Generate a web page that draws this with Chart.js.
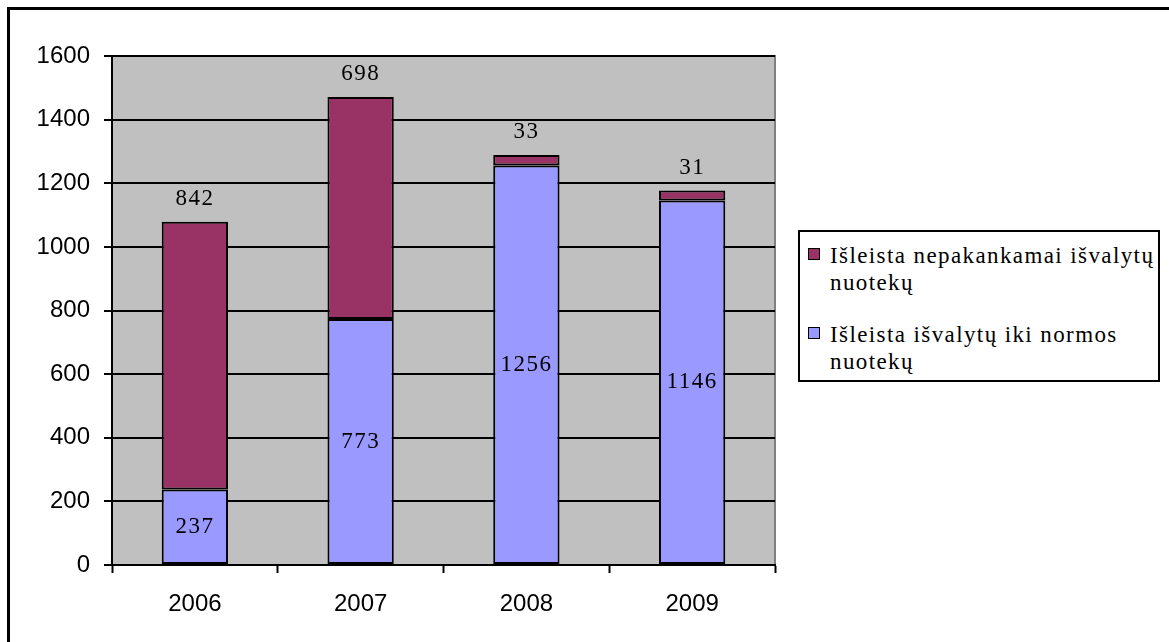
<!DOCTYPE html>
<html>
<head>
<meta charset="utf-8">
<script src="https://cdn.jsdelivr.net/npm/chart.js@4/dist/chart.umd.min.js"></script>
<style>
    html, body { margin: 0; padding: 0; background: #fff; }
    .wrap { position: relative; width: 1169px; height: 642px; overflow: hidden; }
    .frame { position: absolute; left: 7px; top: 7px; width: 1200px; height: 700px; border: 3px solid #000; }
    #chart { position: absolute; left: 0; top: 0; }
    .legend {
        position: absolute; left: 798px; top: 230px; width: 358px; height: 148px;
        border: 2px solid #000; background: #fff;
        font-family: "Liberation Serif", "Times New Roman", serif; font-size: 23px; line-height: 27px;
        letter-spacing: 1.4px; color: #000;
    }
    .legend-item { position: relative; padding-left: 30px; margin-top: 10px; }
    .legend-item + .legend-item { margin-top: 25px; }
    .swatch { position: absolute; left: 8px; top: 6px; width: 10px; height: 10px; border: 1.5px solid #000; }
</style>
</head>
<body>
<div class="wrap">
    <div class="frame"></div>
    <canvas id="chart" width="1169" height="642"></canvas>
    <div class="legend" id="legend"></div>
</div>
<script>
//============================================= Data =============================================//
const years = ['2006', '2007', '2008', '2009'];
const cleanedToNorm = [237, 773, 1256, 1146];
const insufficientlyCleaned = [842, 698, 33, 31];
const seriesNames = ['Išleista išvalytų iki normos nuotekų', 'Išleista nepakankamai išvalytų nuotekų'];
const yTicks = [0, 200, 400, 600, 800, 1000, 1200, 1400, 1600];

const colors = ['#9999FF', '#993366'];

//============================================= Plugins =============================================//
const plotBackground = {
    id: 'plotBackground',
    beforeDraw(chart) {
        const {ctx, chartArea: a} = chart;
        ctx.save();
        ctx.fillStyle = '#C0C0C0';
        ctx.fillRect(a.left, a.top, a.right - a.left, a.bottom - a.top);
        ctx.strokeStyle = '#808080';
        ctx.lineWidth = 2;
        ctx.strokeRect(a.left, a.top, a.right - a.left, a.bottom - a.top);
        ctx.restore();
    }
};

const valueLabels = {
    id: 'valueLabels',
    afterDatasetsDraw(chart) {
        const {ctx} = chart;
        ctx.save();
        ctx.font = '23px "Liberation Serif", serif';
        ctx.letterSpacing = '1.5px';
        ctx.fillStyle = '#000';
        ctx.textAlign = 'center';
        ctx.textBaseline = 'middle';
        chart.data.datasets.forEach((ds, i) => {
            chart.getDatasetMeta(i).data.forEach((bar, j) => {
                const v = ds.data[j];
                if (i === 0) {
                    ctx.fillText(String(v), bar.x, (bar.y + bar.base) / 2);
                } else {
                    ctx.fillText(String(v), bar.x, bar.y - 23);
                }
            });
        });
        ctx.restore();
    }
};

//============================================= Bar chart =============================================//
const barConfig = {
    type: 'bar',
    data: {
        labels: years,
        datasets: [
            {
                label: seriesNames[0],
                data: cleanedToNorm,
                backgroundColor: colors[0],
                borderColor: '#000',
                borderWidth: 2,
                borderSkipped: false
            },
            {
                label: seriesNames[1],
                data: insufficientlyCleaned,
                backgroundColor: colors[1],
                borderColor: '#000',
                borderWidth: 2,
                borderSkipped: false
            }
        ]
    },
    options: {
        responsive: false,
        animation: false,
        barPercentage: 0.4,
        categoryPercentage: 1,
        layout: {
            padding: {left: 0, top: 56, right: 394, bottom: 27}
        },
        plugins: {
            legend: {display: false},
            tooltip: {enabled: false}
        },
        scales: {
            x: {
                stacked: true,
                afterFit(scale) { scale.height = 50; },
                grid: {
                    offset: true,
                    drawOnChartArea: false,
                    tickLength: 8,
                    tickColor: '#000',
                    tickWidth: 2
                },
                border: {color: '#000', width: 2},
                ticks: {
                    color: '#000',
                    padding: 17,
                    font: {family: '"Liberation Sans", Arial, sans-serif', size: 24}
                }
            },
            y: {
                stacked: true,
                min: 0,
                max: 1600,
                afterFit(scale) { scale.width = 112; },
                afterBuildTicks(scale) { scale.ticks = yTicks.map(v => ({value: v})); },
                grid: {
                    color: '#000',
                    lineWidth: 2,
                    tickLength: 8,
                    tickColor: '#000'
                },
                border: {color: '#000', width: 2},
                ticks: {
                    color: '#000',
                    padding: 14,
                    callback: value => String(value),
                    font: {family: '"Liberation Sans", Arial, sans-serif', size: 24}
                }
            }
        }
    },
    plugins: [plotBackground, valueLabels]
};

new Chart(document.getElementById('chart'), barConfig);

//============================================= Legend =============================================//
const legendOrder = [1, 0];
document.getElementById('legend').innerHTML = legendOrder.map(i =>
    '<div class="legend-item"><span class="swatch" style="background:' + colors[i] + '"></span>' + seriesNames[i] + '</div>'
).join('');
</script>
</body>
</html>
